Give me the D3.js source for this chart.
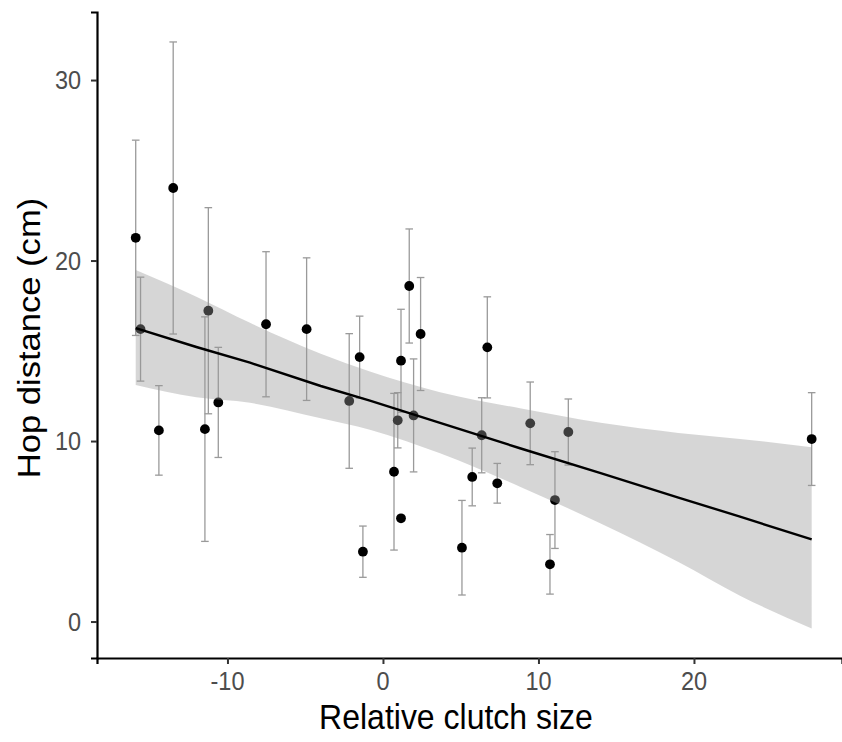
<!DOCTYPE html>
<html><head><meta charset="utf-8">
<script src="https://cdn.jsdelivr.net/npm/d3@7"></script>
<style>body{margin:0;background:#fff}svg{display:block}</style></head>
<body>
<svg id="chart" width="842" height="742"></svg>
<script>
// Data
const clutch = [-15.90,-15.59,-14.41,-13.49,-11.45,-11.23,-10.59,-7.52,-4.91,-2.17,-1.50,-1.29,0.71,0.95,1.16,1.16,1.69,1.97,2.42,5.08,5.74,6.35,6.71,7.35,9.47,10.74,11.06,11.92,27.57];
const hop    = [21.26,16.20,10.59,24.02,10.66,17.22,12.14,16.47,16.20,12.22,14.65,3.87,8.30,11.15,5.72,14.45,18.59,11.42,15.93,4.09,8.01,10.32,15.19,7.66,10.98,3.17,6.73,10.50,10.11];
const hopSE  = [5.41,2.88,2.48,8.09,6.22,5.71,3.05,4.02,3.95,3.73,2.27,1.42,4.34,1.53,0.12,2.85,3.16,3.13,3.13,2.62,1.60,2.08,2.80,1.10,2.29,1.65,2.68,1.83,2.57];
// Fitted line and confidence band (read at several x positions)
const fitX  = [-15.90,-12.00,-8.55,-4.00,-0.84,3.67,8.81,14.00,19.00,22.96,27.57];
const fitY  = [16.26,15.21,14.34,13.05,12.24,11.01,9.60,8.22,6.87,5.81,4.55];
const bandLo= [13.10,12.42,12.12,11.26,10.63,9.32,7.47,5.43,3.30,1.43,-0.38];
const bandHi= [19.47,18.00,16.55,14.84,13.85,12.71,11.81,11.01,10.45,10.12,9.65];
const xTicks = [-10,0,10,20];
const yTicks = [0,10,20,30];

const FONT = "Liberation Sans, Arial, sans-serif";
const STRETCH = 1.08;
const svg = d3.select("#chart");
const x = d3.scaleLinear().domain([-18.39, 29.52]).range([97, 842]);
const y = d3.scaleLinear().domain([-2.02, 33.77]).range([658, 12]);

const eb = svg.append("g").attr("stroke", "#9a9a9a").attr("stroke-width", 1.3).attr("fill", "none");
clutch.forEach((c, i) => {
  const px = x(c), lo = y(hop[i] - hopSE[i]), hi = y(hop[i] + hopSE[i]);
  eb.append("line").attr("x1", px).attr("x2", px).attr("y1", lo).attr("y2", hi);
  eb.append("line").attr("x1", px - 3.8).attr("x2", px + 3.8).attr("y1", lo).attr("y2", lo);
  eb.append("line").attr("x1", px - 3.8).attr("x2", px + 3.8).attr("y1", hi).attr("y2", hi);
});

svg.append("g").selectAll("circle").data(clutch).join("circle")
  .attr("cx", d => x(d)).attr("cy", (d, i) => y(hop[i])).attr("r", 4.9).attr("fill", "#000");

const band = fitX.map((d, i) => ({x: d, lo: bandLo[i], hi: bandHi[i], f: fitY[i]}));
svg.append("path").datum(band)
  .attr("d", d3.area().x(d => x(d.x)).y0(d => y(d.lo)).y1(d => y(d.hi)).curve(d3.curveMonotoneX))
  .attr("fill", "#999999").attr("fill-opacity", 0.4);
svg.append("path").datum(band)
  .attr("d", d3.line().x(d => x(d.x)).y(d => y(d.f)))
  .attr("fill", "none").attr("stroke", "#000").attr("stroke-width", 2.4);

// Axes (lines and ticks from d3, labels drawn below)
const xAxis = svg.append("g").attr("transform", "translate(0,658)")
  .call(d3.axisBottom(x).tickValues(xTicks).tickFormat("").tickSizeOuter(0).tickSize(6));
const yAxis = svg.append("g").attr("transform", "translate(97,0)")
  .call(d3.axisLeft(y).tickValues(yTicks).tickFormat("").tickSizeOuter(0).tickSize(6));
[xAxis, yAxis].forEach(a => {
  a.select(".domain").attr("stroke", "#000").attr("stroke-width", 2.2);
  a.selectAll(".tick line").attr("stroke", "#333").attr("stroke-width", 2);
});

svg.append("g").selectAll("text").data(xTicks).join("text")
  .attr("transform", d => `translate(${x(d)},690) scale(1,${STRETCH})`)
  .attr("text-anchor", "middle").attr("fill", "#4d4d4d")
  .style("font-family", FONT).style("font-size", "23.5px").text(d => String(d));
svg.append("g").selectAll("text").data(yTicks).join("text")
  .attr("transform", d => `translate(81,${y(d) + 9}) scale(1,${STRETCH})`)
  .attr("text-anchor", "end").attr("fill", "#4d4d4d")
  .style("font-family", FONT).style("font-size", "23.5px").text(d => String(d));

svg.append("text").attr("transform", `translate(456,729) scale(1,${STRETCH})`).attr("text-anchor", "middle")
  .style("font-family", FONT).style("font-size", "32px").attr("fill", "#000")
  .text("Relative clutch size");
svg.append("text").attr("transform", `translate(40,338) scale(1,${STRETCH}) rotate(-90)`).attr("text-anchor", "middle")
  .style("font-family", FONT).style("font-size", "32px").attr("fill", "#000")
  .text("Hop distance (cm)");
</script>
</body></html>
